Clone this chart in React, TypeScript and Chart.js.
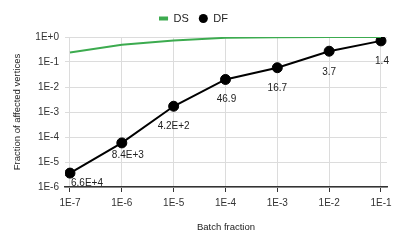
import React, { useEffect, useRef } from "react";
import { Chart, registerables } from "chart.js";

Chart.register(...registerables);

const batchFractions = [1e-7, 1e-6, 1e-5, 1e-4, 1e-3, 1e-2, 1e-1];
const dsValues = [0.24, 0.49, 0.72, 0.93, 0.98, 1.0, 1.0];
const dfValues = [3.6e-6, 5.8e-5, 1.7e-3, 2.0e-2, 5.9e-2, 0.27, 0.7];
const dfLabels = ["6.6E+4", "8.4E+3", "4.2E+2", "46.9", "16.7", "3.7", "1.4"];
const xTickValues = [1e-7, 1e-6, 1e-5, 1e-4, 1e-3, 1e-2, 1e-1];
const xTickLabels = ["1E-7", "1E-6", "1E-5", "1E-4", "1E-3", "1E-2", "1E-1"];
const yTickValues = [1e-6, 1e-5, 1e-4, 1e-3, 1e-2, 1e-1, 1];
const yTickLabels = ["1E-6", "1E-5", "1E-4", "1E-3", "1E-2", "1E-1", "1E+0"];

const FONT = "'Liberation Sans', Arial, sans-serif";
const GREEN = "#3cab4f";

// label placement (pixels, relative to point)
const labelDx = [17, 6, 0, 1, 0, 0, 1];
const labelDy = [10, 12, 20, 20, 21, 21, 20];

const annotationPlugin = {
  id: "dfAnnotations",
  afterDatasetsDraw(chart: any) {
    const meta = chart.getDatasetMeta(1);
    const ctx = chart.ctx;
    ctx.save();
    ctx.font = `10px ${FONT}`;
    ctx.fillStyle = "#222";
    ctx.textAlign = "center";
    ctx.textBaseline = "middle";
    meta.data.forEach((pt: any, i: number) => {
      ctx.fillText(dfLabels[i], pt.x + labelDx[i], pt.y + labelDy[i]);
    });
    ctx.restore();
  },
};

const legendSpacer = {
  id: "legendSpacer",
  beforeLayout(chart: any) {
    const legend = chart.legend;
    if (legend && !legend.__patched) {
      const orig = legend.fit.bind(legend);
      legend.fit = function () {
        orig();
        this.height += 3;
      };
      legend.__patched = true;
    }
  },
};

export default function App() {
  const ref = useRef<HTMLCanvasElement | null>(null);
  useEffect(() => {
    if (!ref.current) return;
    const chart = new Chart(ref.current, {
      type: "line",
      data: {
        datasets: [
          {
            label: "DS",
            data: batchFractions.map((x, i) => ({ x, y: dsValues[i] })),
            borderColor: GREEN,
            backgroundColor: GREEN,
            borderWidth: 2,
            pointRadius: 0,
            pointStyle: "line",
          },
          {
            label: "DF",
            data: batchFractions.map((x, i) => ({ x, y: dfValues[i] })),
            borderColor: "#000",
            backgroundColor: "#000",
            borderWidth: 2,
            pointRadius: 5,
            pointBorderWidth: 1,
            pointStyle: "circle",
          },
        ],
      },
      options: {
        animation: false,
        responsive: false,
        layout: { padding: { left: 0, right: 12, top: 3, bottom: 0 } },
        plugins: {
          tooltip: { enabled: false },
          legend: {
            position: "top",
            labels: {
              usePointStyle: true,
              boxWidth: 9,
              boxHeight: 6.4,
              padding: 10,
              color: "#222",
              font: { family: FONT, size: 11 },
              generateLabels: (chart: any) =>
                chart.data.datasets.map((ds: any, i: number) => ({
                  text: ds.label,
                  datasetIndex: i,
                  pointStyle: i === 0 ? "line" : "circle",
                  fillStyle: ds.borderColor,
                  strokeStyle: ds.borderColor,
                  lineWidth: i === 0 ? 4 : 0,
                  fontColor: "#222",
                  hidden: false,
                })),
            },
          },
        },
        scales: {
          x: {
            type: "logarithmic",
            min: Math.pow(10, -7.096),
            max: Math.pow(10, -0.884),
            afterBuildTicks: (scale: any) => {
              scale.ticks = xTickValues.map((v) => ({ value: v }));
            },
            afterFit: (scale: any) => {
              scale.height = 59;
            },
            ticks: {
              callback: (_v: any, i: number) => xTickLabels[i],
              color: "#333",
              font: { family: FONT, size: 10 },
              padding: 5,
              maxRotation: 0,
              autoSkip: false,
            },
            grid: {
              color: "#dcdcdc",
              tickColor: "#333",
              tickLength: 5,
              lineWidth: 1,
            },
            border: { display: true, color: "#333", width: 1.5 },
            title: {
              display: true,
              text: "Batch fraction",
              color: "#222",
              font: { family: FONT, size: 9.5 },
              padding: { top: 0, bottom: 13.4 },
            },
          },
          y: {
            type: "logarithmic",
            min: 1e-6,
            max: 1,
            afterBuildTicks: (scale: any) => {
              scale.ticks = yTickValues.map((v) => ({ value: v }));
            },
            afterFit: (scale: any) => {
              scale.width = 65;
            },
            ticks: {
              callback: (_v: any, i: number) => yTickLabels[i],
              color: "#333",
              font: { family: FONT, size: 10 },
              padding: 6,
              autoSkip: false,
            },
            grid: { color: "#dcdcdc", drawTicks: false, lineWidth: 1 },
            border: { display: false },
            title: {
              display: true,
              text: "Fraction of affected vertices",
              color: "#222",
              font: { family: FONT, size: 9.5 },
              padding: { top: 12, bottom: 0 },
            },
          },
        },
      },
      plugins: [annotationPlugin, legendSpacer],
    } as any);
    return () => chart.destroy();
  }, []);
  return (
    <div style={{ position: "absolute", left: 0, top: 0, width: 399, height: 246 }}>
      <canvas ref={ref} width={399} height={246} style={{ width: 399, height: 246 }} />
    </div>
  );
}
